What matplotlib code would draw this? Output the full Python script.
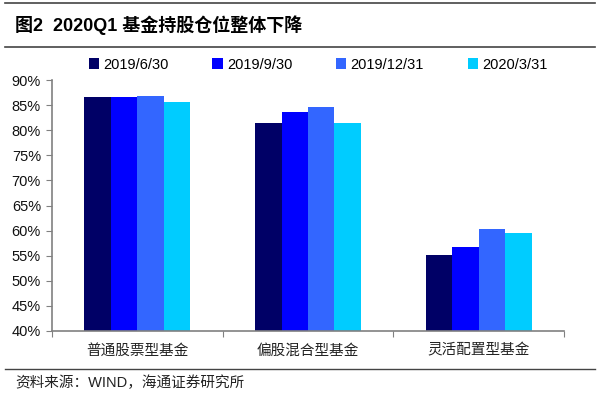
import matplotlib
matplotlib.use("Agg")
import matplotlib.pyplot as plt
import numpy as np
from matplotlib.lines import Line2D

plt.rcParams['font.family'] = ['Liberation Sans', 'Noto Sans CJK SC', 'DejaVu Sans']

categories = ['普通股票型基金', '偏股混合型基金', '灵活配置型基金']
series_names = ['2019/6/30', '2019/9/30', '2019/12/31', '2020/3/31']
v_2019_06 = [86.7, 81.4, 55.1]
v_2019_09 = [86.7, 83.7, 56.8]
v_2019_12 = [86.8, 84.7, 60.4]
v_2020_03 = [85.7, 81.4, 59.5]
series_values = [v_2019_06, v_2019_09, v_2019_12, v_2020_03]
colors = ['#000066', '#0000FF', '#3366FF', '#00CCFF']
yticks = [40, 45, 50, 55, 60, 65, 70, 75, 80, 85, 90]

fig = plt.figure(figsize=(6, 3.95), dpi=100)
ax = fig.add_axes([52/600, 1-331/395, (564-52)/600, (331-80)/395])

x = np.arange(len(categories)) + 0.5
bw = 0.155
for i, (name, vals) in enumerate(zip(series_names, series_values)):
    ax.bar(x + (i - 1.5) * bw, [v - 40 for v in vals], bw, bottom=40,
           color=colors[i], label=name, linewidth=0)

ax.set_xlim(0, 3)
ax.set_ylim(40, 90)
ax.set_yticks(yticks)
ax.set_yticklabels([f'{t}%' for t in yticks], fontsize=10.5, color='#111111')
ax.set_xticks([0, 1, 2, 3])
ax.set_xticklabels([])
ax.set_xticks(x, minor=True)
ax.set_xticklabels(categories, minor=True, fontsize=10.5,
                   family=['Noto Sans CJK SC'], color='#222222')
ax.tick_params(axis='x', which='minor', length=0, pad=9)
ax.tick_params(axis='x', which='major', length=4, color='#808080', direction='out')
ax.tick_params(axis='y', length=4, color='#808080', direction='out', pad=4)
for s in ['top', 'right']:
    ax.spines[s].set_visible(False)
for s in ['left', 'bottom']:
    ax.spines[s].set_color('#808080')
    ax.spines[s].set_linewidth(1.2)

ax.legend(loc='lower center', bbox_to_anchor=(0.52, 1.01), ncol=4, frameon=False,
          fontsize=10.5, handlelength=0.7, handleheight=0.7, handletextpad=0.3,
          columnspacing=3.0, borderaxespad=0)

# title and framing lines
fig.add_artist(Line2D([5/600, 595/600], [1-3/395, 1-3/395], color='#444444', lw=1.2))
fig.add_artist(Line2D([5/600, 595/600], [1-47/395, 1-47/395], color='#444444', lw=1.2))
fig.add_artist(Line2D([5/600, 595/600], [1-369/395, 1-369/395], color='#444444', lw=1.0))
fig.text(15/600, 1-25/395, '图2  2020Q1 基金持股仓位整体下降', fontsize=13, fontweight='bold',
         va='center', ha='left', family=['Liberation Sans', 'Noto Sans CJK SC'])
fig.text(15/600, 1-383/395, '资料来源：WIND，海通证券研究所', fontsize=10.5,
         va='center', ha='left', family=['Liberation Sans', 'Noto Sans CJK SC'], color='#222222')

fig.savefig('out.png', dpi=100)
